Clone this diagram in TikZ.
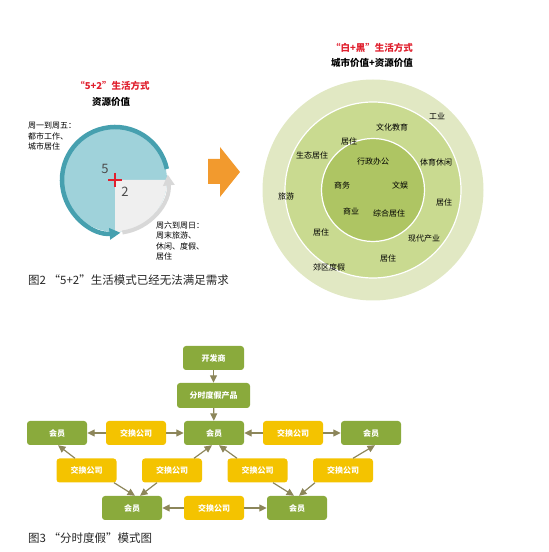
\documentclass[tikz,border=0pt]{standalone}
\usepackage{fontspec}
\setmainfont{Noto Sans CJK SC}
\usetikzlibrary{arrows.meta}
\definecolor{teal1}{HTML}{46A0AF}
\definecolor{tealfill}{HTML}{9FD2DA}
\definecolor{grayq}{HTML}{EFEFEF}
\definecolor{grayarc}{HTML}{D8D8D8}
\definecolor{redt}{HTML}{E0202E}
\definecolor{orangea}{HTML}{F29A2E}
\definecolor{ring1}{HTML}{E1E8C3}
\definecolor{ring2}{HTML}{C9DA90}
\definecolor{ring3}{HTML}{AEC563}
\definecolor{boxg}{HTML}{8AAA3C}
\definecolor{boxy}{HTML}{F4C300}
\definecolor{arr}{HTML}{8C865A}
\begin{document}
\begin{tikzpicture}[x=1pt,y=1pt,
  title/.style={font=\fontsize{9.5}{11}\selectfont\bfseries, text=redt, inner sep=0pt},
  sub/.style={font=\fontsize{9.5}{11}\selectfont\bfseries, inner sep=0pt},
  lbl/.style={font=\fontsize{8}{10.5}\selectfont, inner sep=0pt},
  captxt/.style={font=\fontsize{11.5}{13}\selectfont, anchor=west, inner sep=0pt, text=black!85},
  num/.style={font=\fontsize{13}{14}\selectfont, text=black!70, inner sep=0pt},
  gbox/.style={fill=boxg, rounded corners=3pt, minimum width=60pt, minimum height=24pt, text=white, font=\fontsize{8}{9}\selectfont\bfseries, inner sep=0pt},
  ybox/.style={gbox, fill=boxy},
  flow/.style={draw=arr, line width=1.2pt, -{Triangle[length=7.5pt,width=7pt]}},
]
\useasboundingbox (0,0) rectangle (549,552);

% ---------- figure 2, left: 5+2 ----------
\coordinate (c1) at (115,372);
\fill[tealfill] (c1) circle (52);
\fill[grayq] (c1) -- ++(0:52) arc (0:-90:52) -- cycle;
\draw[grayarc, line width=4pt, -{Triangle[length=11pt,width=11pt]}] ([shift={(-82:53)}]c1) arc (-82:6:53);
\draw[teal1, line width=4.5pt, -{Triangle[length=11pt,width=11pt]}] ([shift={(12:53)}]c1) arc (12:276:53);
\draw[redt, line width=1.8pt] (108,372) -- (122,372) (115,379) -- (115,365);
\node[num] (n5) at (105,383) {5};
\node[num] (n2) at (125,360) {2};

\node[title] (t1) at (112.5,466) {“5+2”生活方式};
\node[sub] (s1) at (111,450) {资源价值};
\node[lbl, anchor=north west, align=left] (l1) at (28,430) {周一到周五：\\都市工作、\\城市居住};
\node[lbl, anchor=north west, align=left] (l2) at (156,330.5) {周六到周日：\\周末旅游、\\休闲、度假、\\居住};
\node[captxt] (cap2) at (28,272) {图2\ “5+2”生活模式已经无法满足需求};

% orange arrow
\fill[orangea] (208,393) -- (220,393) -- (220,405) -- (240,380) -- (220,355) -- (220,368) -- (208,368) -- cycle;

% ---------- figure 2, right: rings ----------
\coordinate (c2) at (373,362);
\fill[ring1] (c2) circle (110.5);
\draw[white, line width=1.2pt, fill=ring2] (c2) circle (88);
\draw[white, line width=1.2pt, fill=ring3] (c2) circle (51.5);

\node[title] (t2) at (372,504) {“白+黑”生活方式};
\node[sub] (s2) at (372,489) {城市价值+资源价值};

\node[lbl] (r1) at (437,436) {工业};
\node[lbl] (r2) at (392,425) {文化教育};
\node[lbl] (r3) at (349,411) {居住};
\node[lbl] (r4) at (312,397) {生态居住};
\node[lbl] (r5) at (373,391) {行政办公};
\node[lbl] (r6) at (436,390) {体育休闲};
\node[lbl] (r7) at (342,367) {商务};
\node[lbl] (r8) at (400,367) {文娱};
\node[lbl] (r9) at (286,356) {旅游};
\node[lbl] (r10) at (444,350) {居住};
\node[lbl] (r11) at (351,341) {商业};
\node[lbl] (r12) at (389,339) {综合居住};
\node[lbl] (r13) at (321,320) {居住};
\node[lbl] (r14) at (424,314) {现代产业};
\node[lbl] (r15) at (388,294) {居住};
\node[lbl] (r16) at (329,285) {郊区度假};

% ---------- figure 3: timeshare ----------
\node[gbox, minimum width=61pt] (dev) at (213.5,194) {开发商};
\node[gbox, minimum width=73pt, minimum height=25pt] (prod) at (213.5,156.5) {分时度假产品};
\node[gbox] (m1) at (57,119) {会员};
\node[ybox] (e1) at (136,119) {交换公司};
\node[gbox] (m2) at (214,119) {会员};
\node[ybox] (e2) at (293,119) {交换公司};
\node[gbox] (m3) at (371,119) {会员};
\node[ybox] (e3) at (86.5,81.5) {交换公司};
\node[ybox] (e4) at (172,81.5) {交换公司};
\node[ybox] (e5) at (257.5,81.5) {交换公司};
\node[ybox] (e6) at (343,81.5) {交换公司};
\node[gbox] (m4) at (132,44) {会员};
\node[ybox] (e7) at (214,44) {交换公司};
\node[gbox] (m5) at (297,44) {会员};

\draw[flow] (dev) -- (prod);
\draw[flow] (prod) -- (m2);
\draw[flow] (e1) -- (m1);
\draw[flow] (e1) -- (m2);
\draw[flow] (e2) -- (m2);
\draw[flow] (e2) -- (m3);
\draw[flow] (e7) -- (m4);
\draw[flow] (e7) -- (m5);
\draw[flow] ([xshift=-11.5pt]e3.north) -- ([xshift=1pt]m1.south);
\draw[flow] ([xshift=27.5pt]e3.south) -- ([xshift=3pt]m4.north);
\draw[flow] ([xshift=-15pt]e4.south) -- ([xshift=8pt]m4.north);
\draw[flow] ([xshift=22pt]e4.north) -- ([xshift=-2pt]m2.south);
\draw[flow] ([xshift=-20.5pt]e5.north) -- ([xshift=5pt]m2.south);
\draw[flow] ([xshift=15.5pt]e5.south) -- ([xshift=-3pt]m5.north);
\draw[flow] ([xshift=-28pt]e6.south) -- ([xshift=2pt]m5.north);
\draw[flow] ([xshift=10pt]e6.north) -- ([xshift=4pt]m3.south);

\node[captxt] (cap3) at (28,14) {图3\ “分时度假”模式图};
\end{tikzpicture}
\end{document}
